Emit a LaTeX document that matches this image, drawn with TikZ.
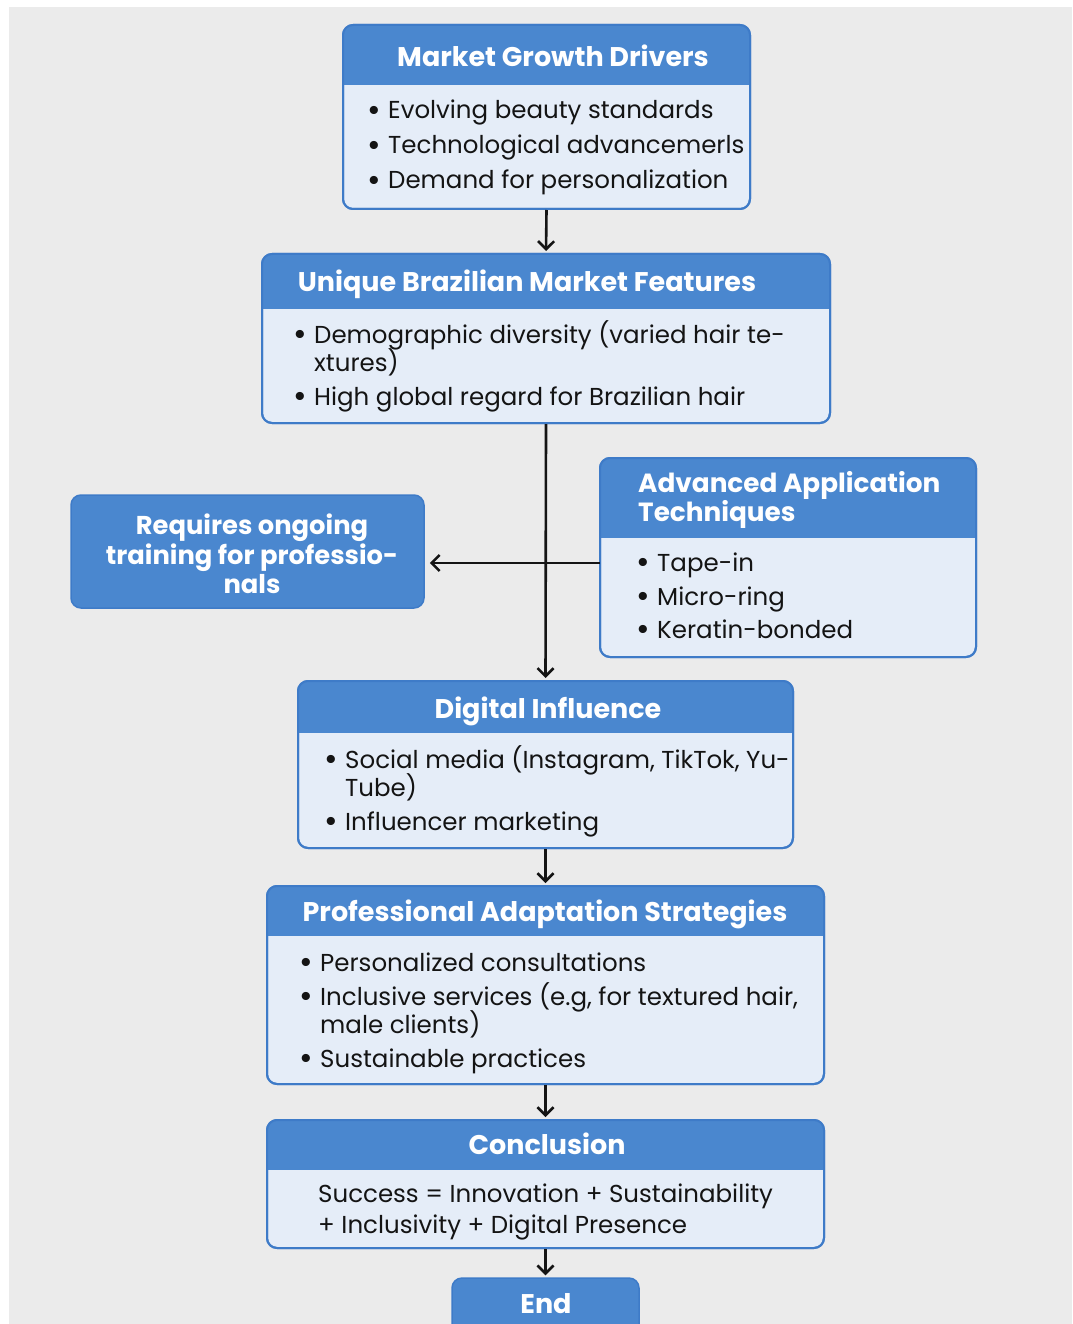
\documentclass[tikz,border=0pt]{standalone}
\usepackage{fontspec}
\setmainfont{Poppins}
\usetikzlibrary{arrows.meta}
\definecolor{bgc}{HTML}{EBEBEB}
\definecolor{headc}{HTML}{4A87CF}
\definecolor{bordc}{HTML}{3E7BC8}
\definecolor{bodyc}{HTML}{E5EDF8}
\definecolor{txtc}{HTML}{141414}
\tikzset{
  x=1pt, y=-1pt,
  panelbox/.style={draw=bordc, line width=2pt, rounded corners=10pt, fill=bodyc, inner sep=0pt},
  titletxt/.style={text=white, font=\fontsize{27}{31}\selectfont\bfseries, inner sep=0pt, text height=19pt, text depth=0pt},
  bodytxt/.style={text=txtc, font=\fontsize{24.5}{28}\selectfont, inner sep=0pt, text height=18pt, text depth=0pt, anchor=west},
  conn/.style={line width=2.6pt, draw=black!92, shorten >=2pt, -{Straight Barb[length=8pt,width=16pt,line width=2.6pt]}},
}
\newcommand{\bul}{\llap{\raisebox{-2.2pt}{\scalebox{1.35}{\textbullet}}\hspace{7pt}}}
% \mypanel{name}{x1}{y1}{x2}{y2}{yheader}
\newcommand{\mypanel}[6]{%
  \node[panelbox, minimum width={#4-#2}, minimum height={#5-#3}] (#1) at ({(#2+#4)/2},{(#3+#5)/2}) {};
  \begin{scope}
    \clip[rounded corners=10pt] (#2,#3) rectangle (#4,#5);
    \fill[headc] (#2,#3) rectangle (#4,#6);
  \end{scope}
  \draw[bordc, line width=2pt, rounded corners=10pt] (#2,#3) rectangle (#4,#5);
}
\begin{document}
\begin{tikzpicture}
\useasboundingbox (0,0) rectangle (1072,1324);
\fill[white] (0,0) rectangle (1072,1324);
\fill[bgc] (9,7) rectangle (1072,1324);

% Box 1
\mypanel{b1}{343}{25}{750}{209}{85}
\node[titletxt] (b1t) at (553,57) {Market Growth Drivers};
\node[bodytxt] (b1a) at (388,110) {\bul Evolving beauty standards};
\node[bodytxt] (b1b) at (388,145) {\bul Technological advancemerls};
\node[bodytxt] (b1c) at (388,180) {\bul Demand for personalization};

% Box 2
\mypanel{b2}{262}{254}{830}{423}{309}
\node[titletxt] (b2t) at (527,282) {Unique Brazilian Market Features};
\node[bodytxt] (b2a) at (314,334) {\bul Demographic diversity (varied hair te-};
\node[bodytxt] (b2b) at (314,362) {xtures)};
\node[bodytxt] (b2c) at (314,396) {\bul High global regard for Brazilian hair};

% Box 3 (all blue)
\node[draw=bordc, fill=headc, line width=1.5pt, rounded corners=10pt, minimum width=353pt, minimum height=113pt] (b3) at (247.5,551.5) {};
\node[text=white, font=\fontsize{25.8}{29.5}\selectfont\bfseries, align=center, inner sep=0pt] (b3t) at (252,554) {Requires ongoing\\training for professio-\\nals};

% Box 4
\mypanel{b4}{600}{458}{976}{657}{538}
\node[titletxt, font=\fontsize{26.3}{29.5}\selectfont\bfseries, anchor=west, align=left, text height=, text depth=] (b4t) at (638,500) {Advanced Application\\Techniques};
\node[bodytxt] (b4a) at (657,562) {\bul Tape-in};
\node[bodytxt] (b4b) at (657,596) {\bul Micro-ring};
\node[bodytxt] (b4c) at (657,629) {\bul Keratin-bonded};

% Box 5
\mypanel{b5}{298}{681}{793}{848}{733}
\node[titletxt] (b5t) at (548,709) {Digital Influence};
\node[bodytxt] (b5a) at (345,759) {\bul Social media (Instagram, TikTok, Yu-};
\node[bodytxt] (b5b) at (345,787) {Tube)};
\node[bodytxt] (b5c) at (345,821) {\bul Influencer marketing};

% Box 6
\mypanel{b6}{267}{886}{824}{1084}{936}
\node[titletxt] (b6t) at (545,912) {Professional Adaptation Strategies};
\node[bodytxt] (b6a) at (320,962) {\bul Personalized consultations};
\node[bodytxt] (b6b) at (320,996) {\bul Inclusive services (e.g, for textured hair,};
\node[bodytxt] (b6c) at (320,1024) {male clients)};
\node[bodytxt] (b6d) at (320,1058) {\bul Sustainable practices};

% Box 7
\mypanel{b7}{267}{1120}{824}{1248}{1170}
\node[titletxt] (b7t) at (547,1145) {Conclusion};
\node[bodytxt] (b7a) at (318,1193) {Success = Innovation + Sustainability};
\node[bodytxt] (b7b) at (318,1224) {+ Inclusivity + Digital Presence};

% End
\node[draw=bordc, fill=headc, line width=1.5pt, rounded corners=10pt, minimum width=187pt, minimum height=70pt] (b8) at (545.5,1313) {};
\node[titletxt] (b8t) at (546,1304) {End};

% connectors
\draw[conn] (b1.south) -- (b2.north);
\draw[conn] (b2.south) -- (b5.north);
\coordinate (hstart) at (600,563);
\draw[conn, shorten >=5pt] (hstart) -- (hstart -| b3.east);
\draw[conn] (b5.south) -- (b6.north);
\draw[conn] (b6.south) -- (b7.north);
\draw[conn] (b7.south) -- (b8.north);
\end{tikzpicture}
\end{document}
